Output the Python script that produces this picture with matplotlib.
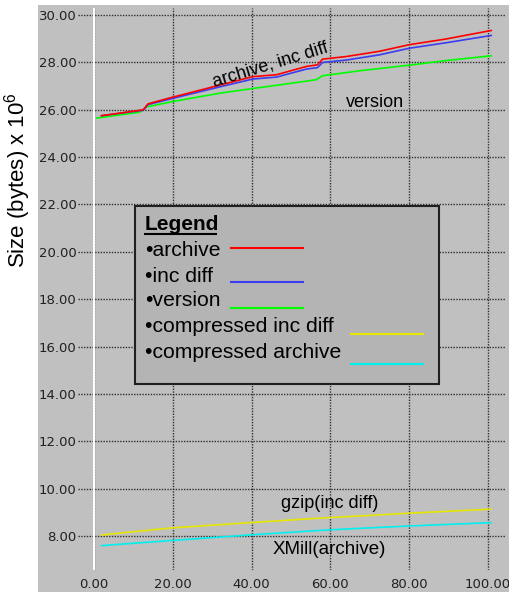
import matplotlib
matplotlib.use('Agg')
import matplotlib.pyplot as plt
from matplotlib.patches import Rectangle

# data (x = version number, y = size in bytes x 10^6)
x_archive = [1.9, 12.5, 13.7, 19.2, 30.2, 40.3, 46.3, 53.9, 56.7, 58.0, 64.0, 72.4, 80.0, 89.3, 100.8]
y_archive = [25.75, 26.0, 26.25, 26.5, 26.97, 27.4, 27.48, 27.83, 27.9, 28.14, 28.25, 28.47, 28.75, 28.99, 29.35]

x_incdiff = [1.9, 12.5, 13.7, 19.2, 30.2, 40.3, 46.3, 53.9, 56.7, 58.0, 64.0, 72.4, 80.0, 89.3, 100.8]
y_incdiff = [25.75, 25.98, 26.22, 26.45, 26.9, 27.3, 27.38, 27.72, 27.78, 28.0, 28.1, 28.32, 28.6, 28.83, 29.14]

x_version = [0.7, 11.6, 13.3, 20.0, 31.9, 40.3, 47.0, 56.4, 58.0, 68.0, 80.8, 89.3, 100.8]
y_version = [25.65, 25.9, 26.12, 26.35, 26.7, 26.9, 27.05, 27.27, 27.44, 27.66, 27.9, 28.08, 28.28]

x_gzip = [1.9, 19.2, 39.5, 57.2, 80.0, 100.7]
y_gzip = [8.04, 8.33, 8.56, 8.75, 8.96, 9.13]

x_xmill = [1.9, 19.2, 39.5, 58.9, 80.0, 100.7]
y_xmill = [7.59, 7.80, 8.04, 8.25, 8.42, 8.56]

xticks = [0, 20, 40, 60, 80, 100]
yticks = [8, 10, 12, 14, 16, 18, 20, 22, 24, 26, 28, 30]

legend_names = ['archive', 'inc diff', 'version', 'compressed inc diff', 'compressed archive']
legend_colors = ['#ff0000', '#3c3cf0', '#00ff00', '#e6e600', '#00f0f0']

plt.rcParams['mathtext.default'] = 'regular'

W, H = 510, 592
fig = plt.figure(figsize=(W / 100, H / 100), dpi=100)
fig.patch.set_facecolor('white')

# gray panel behind everything (incl. tick labels)
fig.patches.append(Rectangle((38 / W, 0), 1 - 38 / W, (H - 5) / H,
                             transform=fig.transFigure, facecolor='#c0c0c0',
                             edgecolor='none', zorder=-5))

ax = fig.add_axes([78 / W, (H - 570) / H, (505 - 78) / W, (570 - 8) / H])
ax.set_zorder(1)
ax.set_facecolor('#c0c0c0')
for s in ax.spines.values():
    s.set_visible(False)

ax.set_xlim(-4.06, 104.3)
ax.set_ylim(6.56, 30.3)
ax.set_xticks(xticks)
ax.set_yticks(yticks)
ax.set_xticklabels(['%.2f' % v for v in xticks])
ax.set_yticklabels(['%.2f' % v for v in yticks])
ax.tick_params(axis='both', length=0, labelsize=9.5, colors='#202020')
ax.tick_params(axis='y', pad=1)
ax.tick_params(axis='x', pad=6)
ax.grid(True, color='#303030', linestyle=(0, (1, 1)), linewidth=1)
ax.set_axisbelow(True)
ax.axvline(0, color='white', lw=1.5, zorder=1)

ax.plot(x_version, y_version, color=legend_colors[2], lw=1.2, zorder=3)
ax.plot(x_incdiff, y_incdiff, color=legend_colors[1], lw=1.2, zorder=3)
ax.plot(x_archive, y_archive, color=legend_colors[0], lw=1.2, zorder=3)
ax.plot(x_gzip, y_gzip, color=legend_colors[3], lw=1.2, zorder=3)
ax.plot(x_xmill, y_xmill, color=legend_colors[4], lw=1.2, zorder=3)

font = 'Liberation Sans'
ax.text(44.7, 27.9, 'archive, inc diff', rotation=17, ha='center', va='center',
        fontsize=13, family=font)
ax.text(71.3, 26.3, 'version', ha='center', va='center', fontsize=13, family=font)
ax.text(59.9, 9.39, 'gzip(inc diff)', ha='center', va='center', fontsize=13, family=font)
ax.text(59.7, 7.41, 'XMill(archive)', ha='center', va='center', fontsize=13.5, family=font)

# hand-drawn style legend box
bx0, by0, bx1, by1 = 135, 206, 439, 384
fig.patches.append(Rectangle((bx0 / W, (H - by1) / H), (bx1 - bx0) / W, (by1 - by0) / H,
                             transform=fig.transFigure, facecolor='#b4b4b4',
                             edgecolor='#202020', lw=1.5, zorder=5))
fig.text(145 / W, (H - 224) / H, 'Legend', fontsize=15, fontweight='bold', family=font,
         va='center', zorder=6)
fig.add_artist(plt.Line2D([145 / W, 216 / W], [(H - 234) / H] * 2, color='black', lw=1.5, zorder=6))
text_y = [251, 276, 301, 327, 352]
line_y = [248, 282, 308, 334, 364]
line_x = [(231, 303), (231, 303), (231, 303), (351, 423), (351, 423)]
for name, col, ty, ly, (lx0, lx1) in zip(legend_names, legend_colors, text_y, line_y, line_x):
    fig.text(145 / W, (H - ty) / H, '\u2022' + name, fontsize=15.2, family=font,
             va='center', zorder=6)
    fig.add_artist(plt.Line2D([lx0 / W, lx1 / W], [(H - ly) / H] * 2, color=col, lw=1.5, zorder=6))

fig.text(18 / W, (H - 180) / H, 'Size (bytes) x 10$^6$', rotation=90, ha='center',
         va='center', fontsize=16, family=font)

fig.savefig('out.png', dpi=100, facecolor=fig.get_facecolor())
